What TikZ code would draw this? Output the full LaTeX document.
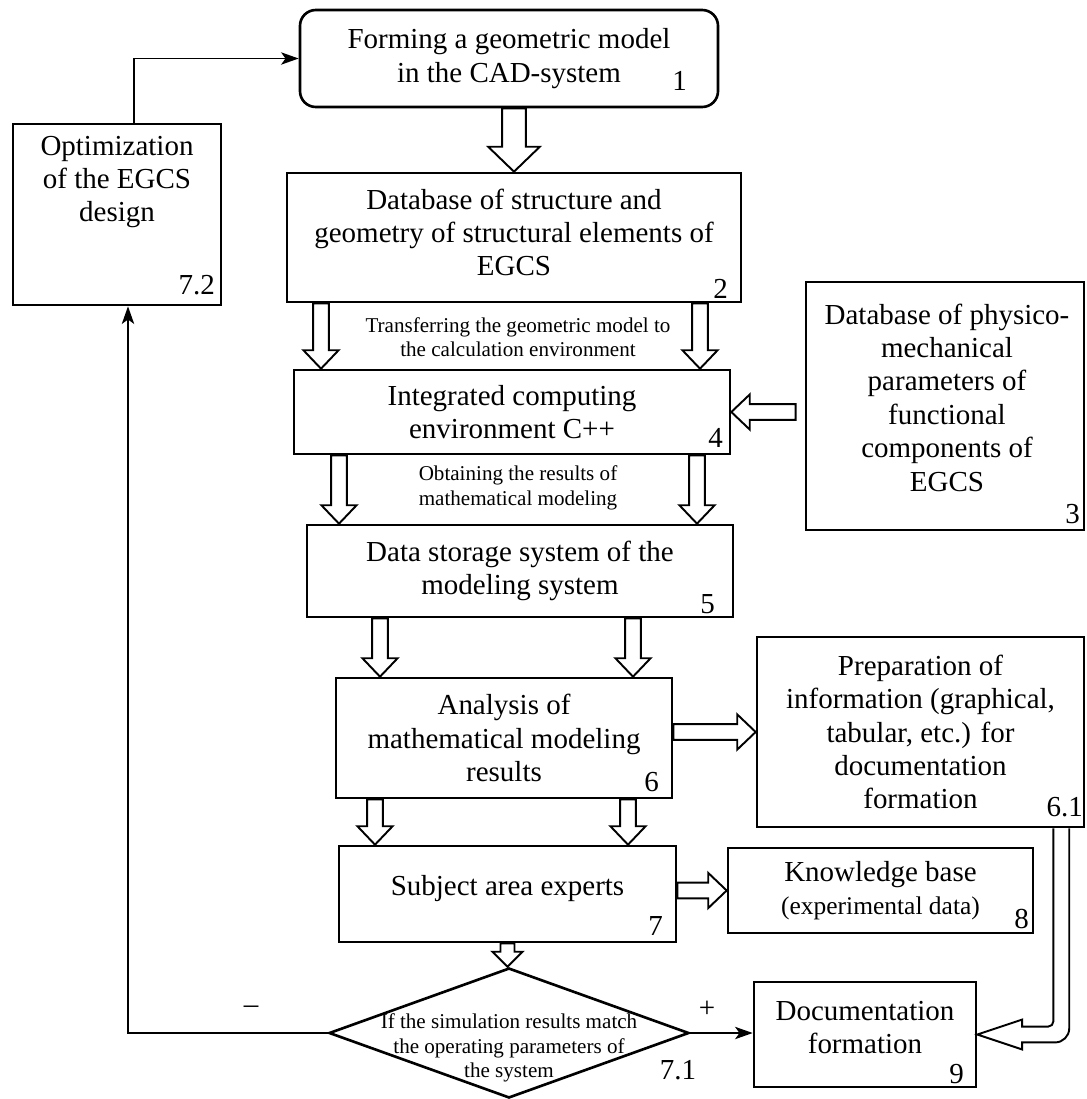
\documentclass[tikz,border=0pt]{standalone}
\usepackage{fontspec}
\setmainfont{Liberation Serif}
\usetikzlibrary{arrows.meta,calc,shapes.geometric}
\tikzset{
  txt/.style={inner sep=0pt,align=center,font=\fontsize{16.5}{19}\selectfont},
  box/.style={txt,draw,line width=1.5pt},
  wh/.style 2 args={minimum width=#1*0.02cm,minimum height=#2*0.02cm},
  note/.style={inner sep=0pt,align=center,font=\fontsize{12}{14}\selectfont},
  num/.style={txt,anchor=base east},
  hollow/.style n args={3}{draw,line width=1.1pt,line join=miter,to path={
    let \p1=(\tikztostart), \p2=(\tikztotarget),
        \n1={atan2(\y2-\y1,\x2-\x1)}, \n2={veclen(\x2-\x1,\y2-\y1)} in
    [shift={(\p1)},rotate=\n1]
    (0,-#1) -- ({\n2*1pt-#3},-#1) -- ({\n2*1pt-#3},-#2) -- ({\n2*1pt},0)
    -- ({\n2*1pt-#3},#2) -- ({\n2*1pt-#3},#1) -- (0,#1) -- cycle}},
  arr/.style={hollow={4.5pt}{10pt}{10.5pt}},
  sarr/.style={hollow={4pt}{8.5pt}{8.5pt}},
  bigarr/.style={hollow={6.8pt}{14.7pt}{14.2pt}},
  link/.style={line width=1.1pt,-{Stealth[length=10pt,width=7pt,inset=2.5pt]}}
}
\begin{document}
\begin{tikzpicture}[x=0.02cm,y=-0.02cm]
  \useasboundingbox (0,0) rectangle (1086,1099);
  \node[box,wh={418}{97},rounded corners=9pt] (n1) at (509,58.5) {Forming a geometric model\\in the CAD-system};
  \node[box,wh={208}{181}] (n72) at (117,214.5) {};
  \node[txt,anchor=north] (t72) at ($(n72.north)+(0,13)$) {Optimization\\of the EGCS\\design};
  \node[box,wh={454}{129}] (n2) at (514,237.5) {};
  \node[txt] (t2) at ($(n2)+(0,-5)$) {Database of structure and\\geometry of structural elements of\\EGCS};
  \node[box,wh={278}{248}] (n3) at (945,406) {};
  \node[txt] (t3) at ($(n3)+(2,-8.5)$) {Database of physico-\\mechanical\\parameters of\\functional\\components of\\EGCS};
  \node[box,wh={436}{84}] (n4) at (512,412) {Integrated computing\\environment C++};
  \node[box,wh={426}{92}] (n5) at (520,571) {Data storage system of the\\modeling system};
  \node[box,wh={336}{120}] (n6) at (504,738) {Analysis of\\mathematical modeling\\results};
  \node[box,wh={327}{190}] (n61) at (920.5,732) {Preparation of\\information (graphical,\\tabular, etc.) for\\documentation\\formation};
  \node[box,wh={337}{96}] (n7) at (507.5,894) {};
  \node[txt] (t7) at ($(n7)+(0,-5)$) {Subject area experts};
  \node[box,wh={305}{85}] (n8) at (880.5,890.5) {Knowledge base\\{\fontsize{14.5}{17}\selectfont(experimental data)}};
  \node[box,wh={222}{105}] (n9) at (865,1034.5) {};
  \node[txt] (t9) at ($(n9)+(0,-7)$) {Documentation\\formation};
  \node[draw,diamond,line width=1.5pt,inner sep=0pt,wh={360}{130}] (d71) at (509,1033) {};
  \node[note] (t71) at (509,1048) {If the simulation results match\\the operating parameters of\\the system};
  \foreach \b/\l/\dx/\dy in {n1/1/-32/-18,n72/7.2/-7/-12,n2/2/-14/-5,n3/3/-5/-8,n4/4/-8/-8,n5/5/-19/-5,n6/6/-14/-8,n61/6.1/-2/-12,n7/7/-14/-8,n8/8/-5/-6,n9/9/-13/-5}
    \node[num] (l\b) at ($(\b.south east)+(\dx,\dy)$) {\l};
  \node[txt] (l71) at (678,1070) {7.1};
  \node[txt] (plus) at (707,1009) {+};
  \node[txt] (minus) at (251,1010) {–};
  \node[note] (c24) at (518,337) {Transferring the geometric model to\\the calculation environment};
  \node[note] (c45) at (518,488) {Obtaining the results of\\mathematical modeling};
  \coordinate (s) at ($(n1.south)+(5,0)$); \draw[bigarr] (s) to (s |- n2.north);
  \foreach \a/\b/\dx in {n2/n4/-193,n2/n4/186,n4/n5/-173,n4/n5/185,n5/n6/-140,n5/n6/113,n6/n7/-129,n6/n7/124}
    {\coordinate (s) at ($(\a.south)+(\dx,0)$); \draw[arr] (s) to (s |- \b.north);}
  \coordinate (s) at ($(n3.west |- n4.east)+(-9,0)$); \draw[arr] (s) to (n4.east);
  \draw[arr] (n6.east |- n61.west) to (n61.west);
  \draw[arr] (n7.east |- n8.west) to (n8.west);
  \draw[sarr] (n7.south) to (n7.south |- d71.north);
  \coordinate (c) at ($(n61.south east)+(-24,0)$);
  \draw[line width=1.1pt,line join=miter] let \p1=(c), \p2=(n9.east) in
    (\x1-4.5pt,\y1) [rounded corners=3pt] -- (\x1-4.5pt,\y2+4.5pt) [sharp corners] -- (\x2+25.5pt,\y2+4.5pt) -- (\x2+25.5pt,\y2+8.5pt) -- (\p2) -- (\x2+25.5pt,\y2-8.5pt) -- (\x2+25.5pt,\y2-4.5pt) [rounded corners=8pt] -- (\x1+4.5pt,\y2-4.5pt) [sharp corners] -- (\x1+4.5pt,\y1);
  \draw[link] (d71.west) -| ($(n72.south)+(11,0)$);
  \draw[link] ($(n72.north)+(17,0)$) |- (n1.west);
  \draw[link] (d71.east) -- (d71.east -| n9.west);
\end{tikzpicture}
\end{document}
